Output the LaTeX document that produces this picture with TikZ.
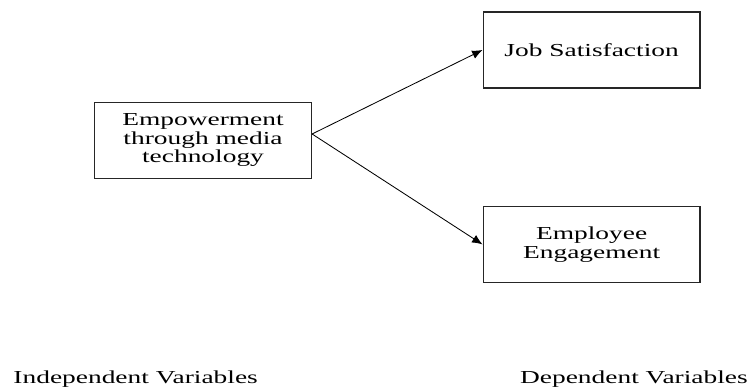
\documentclass[tikz,border=0pt]{standalone}
\usepackage{fontspec}
\setmainfont{Liberation Serif}[FakeStretch=1.5]
\usetikzlibrary{arrows.meta}

\begin{document}
\begin{tikzpicture}[>={Latex[length=2.6mm,width=2.2mm]}, font=\fontsize{13}{13.2}\selectfont]
\tikzstyle{varbox}=[rectangle, draw=black!85, line width=1pt, inner sep=0pt, text width=5.42cm, minimum height=1.9cm, text badly centered]

\useasboundingbox (0,0) rectangle (18.775,9.7);
% \draw[help lines] (0,0) grid (18,9);

\node[varbox] (empower) at (5.075,6.19) {Empowerment\\ through media\\ technology};
\node[varbox] (jobSat) at (14.79,8.45) {Job Satisfaction};
\node[varbox] (engage) at (14.79,3.59) {Employee\\ Engagement};

\node[anchor=base west, inner sep=0pt] (indepVars) at (0.33,0.125) {Independent Variables};
\node[anchor=base east, inner sep=0pt] (depVars) at (18.7,0.125) {Dependent Variables};

% both arrows leave from the same point, a bit above the middle
\coordinate (fork) at ([yshift=1.6mm]empower.east);
\draw[->, semithick] (fork) -- (jobSat.west);
\draw[->, semithick] (fork) -- (engage.west);
\end{tikzpicture}
\end{document}
